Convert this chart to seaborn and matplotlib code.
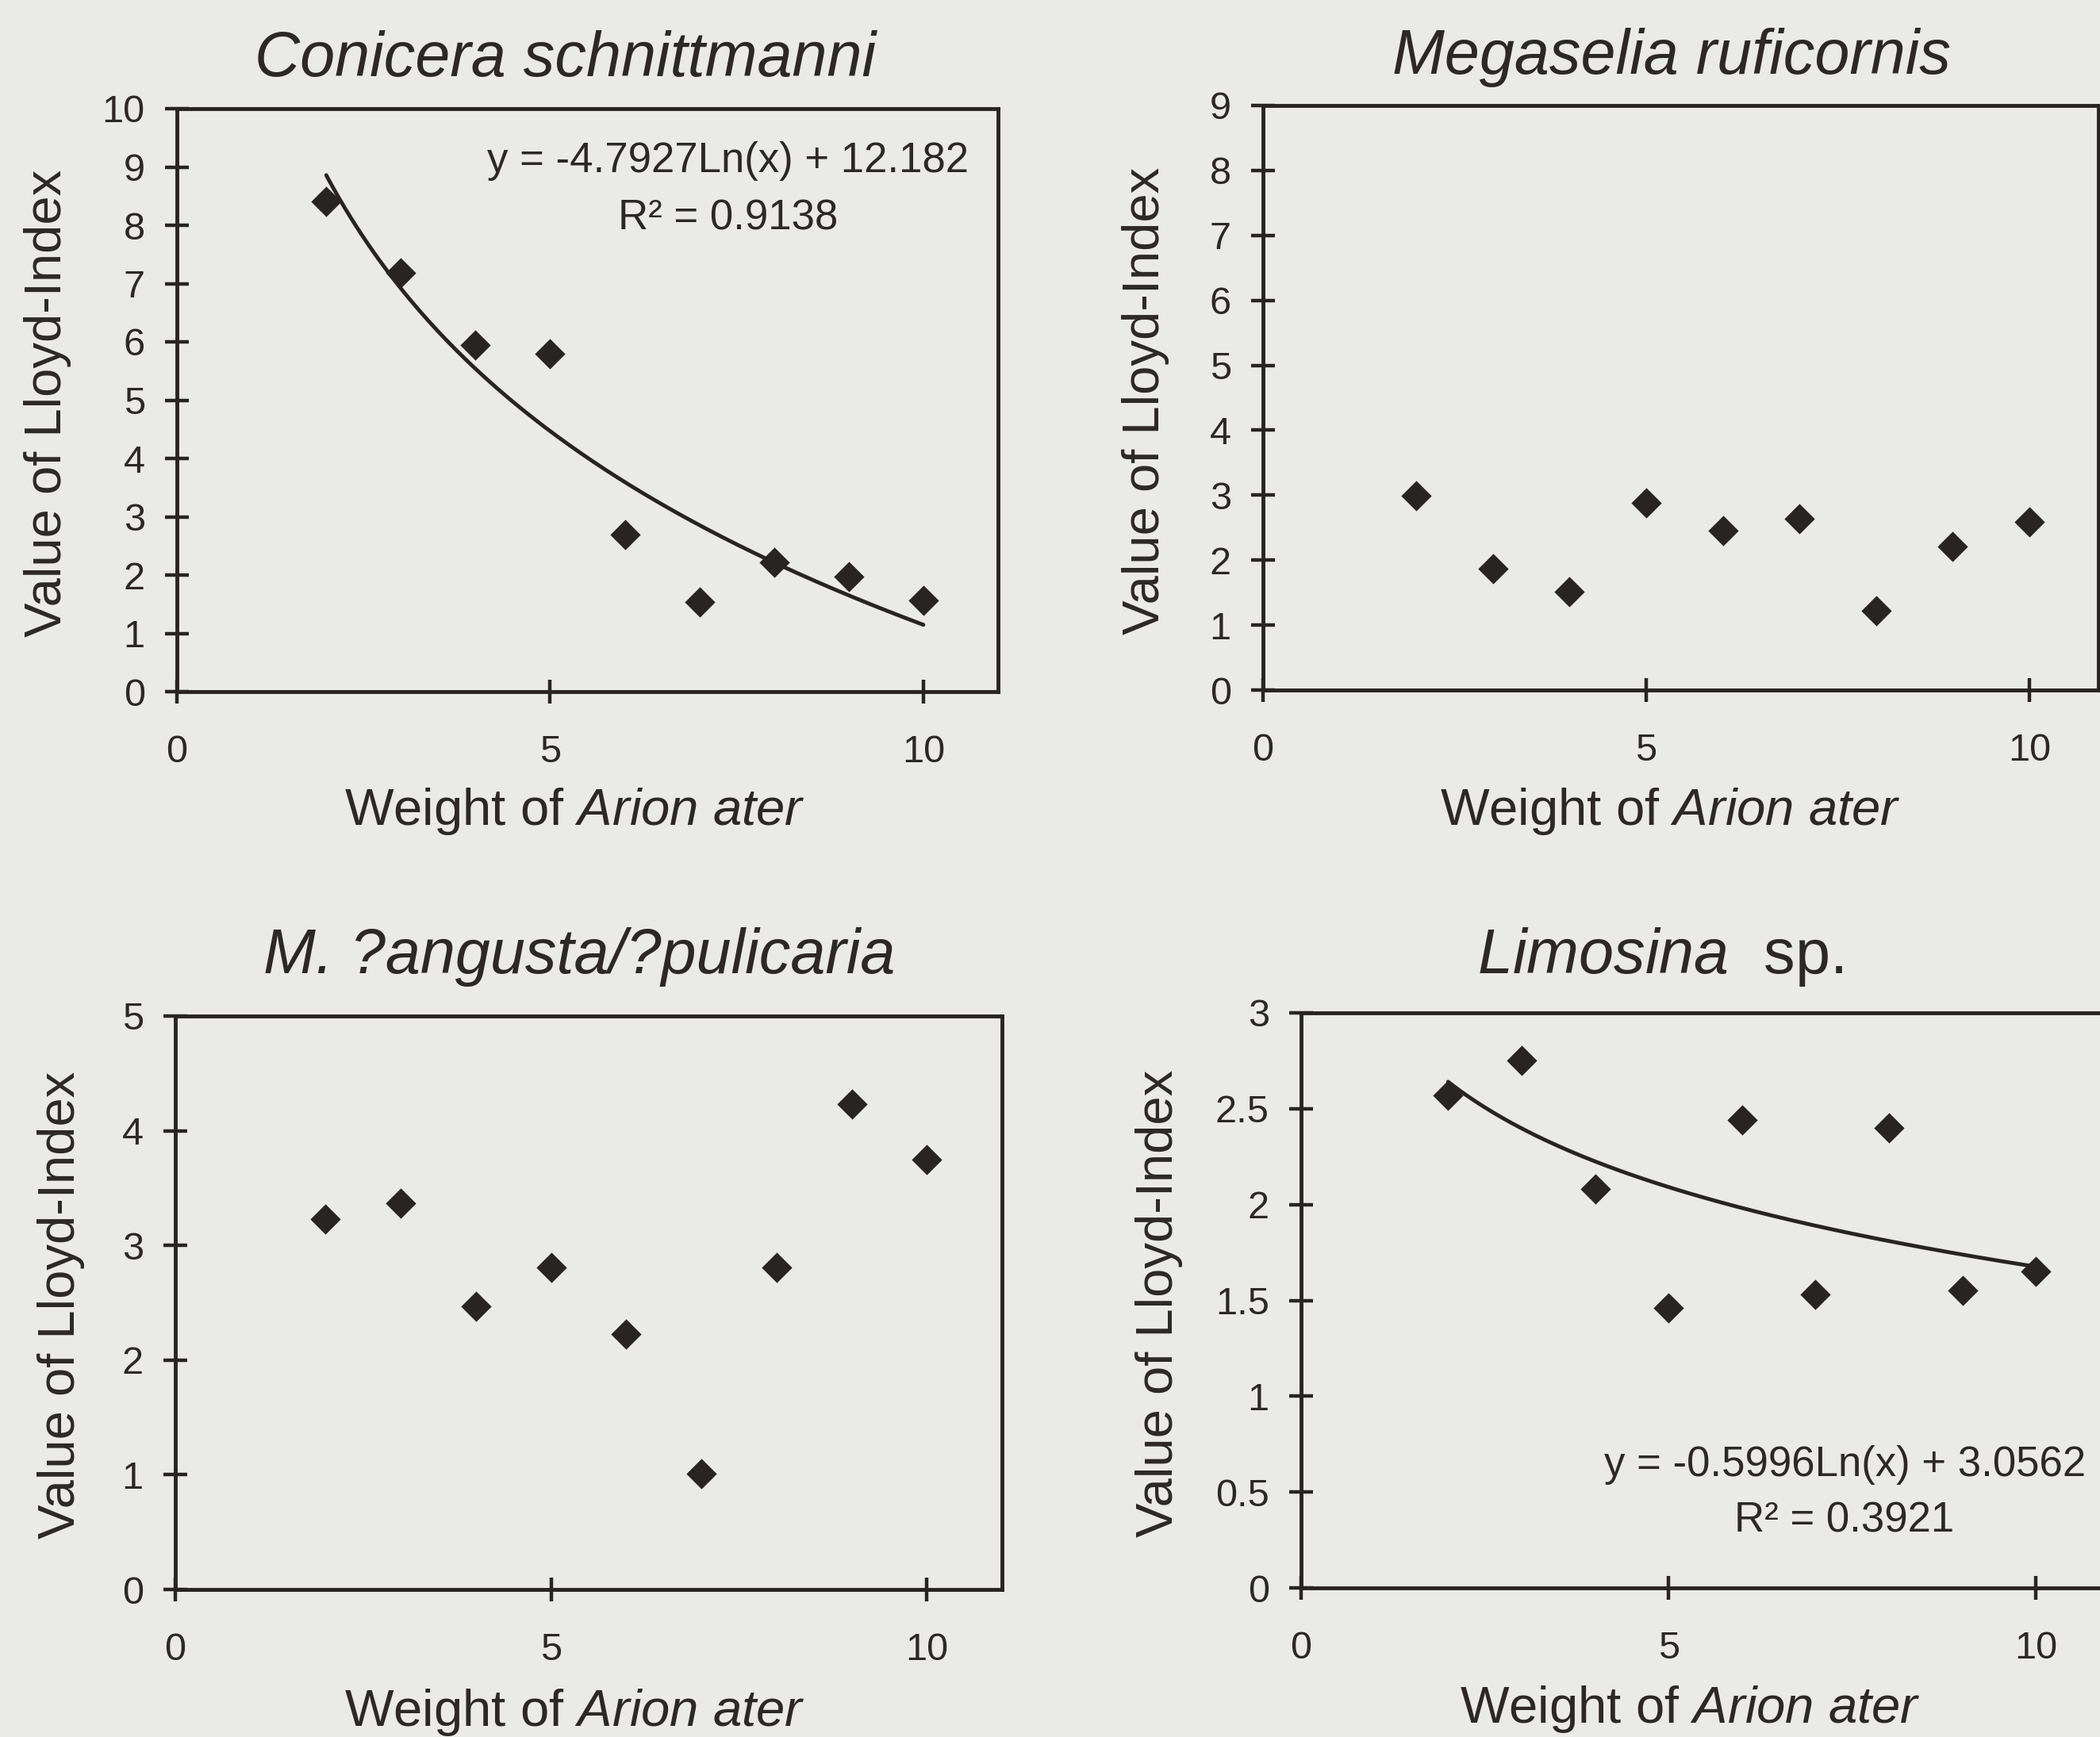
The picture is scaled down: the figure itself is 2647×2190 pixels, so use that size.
import numpy as np
import pandas as pd
import matplotlib
matplotlib.use("Agg")
import matplotlib.pyplot as plt
import seaborn as sns
from matplotlib.ticker import FuncFormatter, MultipleLocator

# ---------------- data ----------------
weight = [2, 3, 4, 5, 6, 7, 8, 9, 10]
conicera = [8.41, 7.19, 5.94, 5.80, 2.70, 1.54, 2.22, 1.97, 1.56]
megaselia = [2.99, 1.87, 1.51, 2.88, 2.45, 2.64, 1.22, 2.21, 2.59]
angusta = [3.23, 3.37, 2.47, 2.81, 2.23, 1.01, 2.81, 4.23, 3.75]
limosina = [2.57, 2.75, 2.08, 1.46, 2.44, 1.53, 2.40, 1.55, 1.65]

conicera_fit = (-4.7927, 12.182)   # y = a*Ln(x) + b
conicera_r2 = 0.9138
limosina_fit = (-0.5996, 3.0562)
limosina_r2 = 0.3921

titles = ["Conicera schnittmanni", "Megaselia ruficornis",
          "M. ?angusta/?pulicaria", r"$\mathit{Limosina}$  sp."]
xlabel = r"Weight of $\mathit{Arion\ ater}$"
ylabel = "Value of Lloyd-Index"

# ---------------- style ----------------
sns.set_style("ticks")
BG = "#eaeae8"
INK = "#282424"
TXT = "#2c2828"
plt.rcParams["font.family"] = ["Liberation Sans", "DejaVu Sans"]
plt.rcParams["mathtext.fontset"] = "custom"
plt.rcParams["mathtext.rm"] = "Liberation Sans"
plt.rcParams["mathtext.it"] = "Liberation Sans:italic"
plt.rcParams["mathtext.bf"] = "Liberation Sans:bold"

W, H = 2647, 2190
fig = plt.figure(figsize=(W / 100, H / 100), dpi=100, facecolor=BG)


def add_ax(l, t, r, b):
    return fig.add_axes([l / W, 1 - b / H, (r - l) / W, (b - t) / H])


def fx(x):
    return x / W


def fy(y):
    return 1 - y / H


def fmt(v, pos):
    return f"{v:g}"


def style_axes(ax, xmax, ymax, ystep):
    ax.set_facecolor("none")
    ax.set_xlim(0, xmax)
    ax.set_ylim(0, ymax)
    ax.xaxis.set_major_locator(MultipleLocator(5))
    ax.yaxis.set_major_locator(MultipleLocator(ystep))
    ax.xaxis.set_major_formatter(FuncFormatter(fmt))
    ax.yaxis.set_major_formatter(FuncFormatter(fmt))
    for s in ax.spines.values():
        s.set_visible(True)
        s.set_linewidth(3.5)
        s.set_color(INK)
    ax.tick_params(axis="both", direction="inout", length=22, width=3.2,
                   color=INK, labelcolor=TXT, labelsize=35)
    ax.tick_params(axis="x", pad=28)
    ax.tick_params(axis="y", pad=18)
    ax.set_xlabel("")
    ax.set_ylabel("")


def scatter(ax, ys):
    df = pd.DataFrame({"w": weight, "v": ys})
    sns.scatterplot(data=df, x="w", y="v", ax=ax, marker="D", s=380,
                    color=INK, edgecolor=INK, linewidth=0, zorder=3,
                    clip_on=False)


def trend(ax, coef):
    a, b = coef
    xs = np.linspace(min(weight), max(weight), 200)
    ys = a * np.log(xs) + b
    sns.lineplot(x=xs, y=ys, ax=ax, color=INK, linewidth=3.5, zorder=2)


# Panel positions in pixels (left, top, right, bottom)
ax1 = add_ax(223, 137, 1258, 872)
ax2 = add_ax(1592, 133, 2645, 870)
ax3 = add_ax(221, 1281, 1263, 2004)
ax4 = add_ax(1640, 1277, 2659, 2002)

scatter(ax1, conicera)
trend(ax1, conicera_fit)
style_axes(ax1, 11, 10, 1)

scatter(ax2, megaselia)
style_axes(ax2, 10.9, 9, 1)

scatter(ax3, angusta)
style_axes(ax3, 11, 5, 1)

scatter(ax4, limosina)
trend(ax4, limosina_fit)
style_axes(ax4, 11, 3, 0.5)

# Titles
title_pos = [(713, 96), (2107, 93), (730, 1227), (2092, 1227)]
for (x, y), t in zip(title_pos, titles):
    style = "normal" if "mathit" in t else "italic"
    fig.text(fx(x), fy(y), t, ha="center", va="baseline", fontsize=57,
             color=TXT, fontstyle=style)

# x labels
for x, y in [(724, 1040), (2105, 1040), (724, 2176), (2130, 2172)]:
    fig.text(fx(x), fy(y), xlabel, ha="center", va="baseline", fontsize=47,
             color=TXT)

# y labels
for x, y in [(60, 508), (1444, 505), (77, 1645), (1461, 1643)]:
    fig.text(fx(x), fy(y), ylabel, ha="center", va="center", rotation=90,
             fontsize=47, color=TXT)

# trendline equations
def eq_text(coef, r2, pos_eq, pos_r2):
    a, b = coef
    fig.text(fx(pos_eq[0]), fy(pos_eq[1]),
             f"y = {a:.4f}Ln(x) + {b:g}", ha="center", va="center",
             fontsize=38, color=TXT)
    fig.text(fx(pos_r2[0]), fy(pos_r2[1]), f"R² = {r2:.4f}",
             ha="center", va="center", fontsize=38, color=TXT)


eq_text(conicera_fit, conicera_r2, (917, 203), (918, 276))
eq_text(limosina_fit, limosina_r2, (2326, 1847), (2325, 1917))

fig.savefig("out.png", dpi=100, facecolor=BG)
